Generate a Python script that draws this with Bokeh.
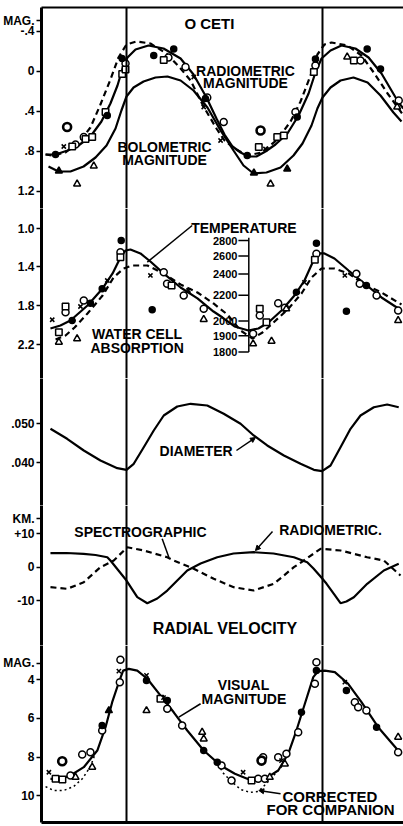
import math
from bokeh.plotting import figure
from bokeh.models import Range1d, Span, Label, FixedTicker, LinearAxis, Arrow, NormalHead
from bokeh.layouts import column
from bokeh.embed import file_html
from bokeh.resources import INLINE
from bokeh.core.properties import value

FONT = "Liberation Sans"
NAN = float("nan")

# ---------------- data (phase of the light cycle) ----------------
phase_marks = [0.0, 1.0]

# Panel 1: radiometric / bolometric magnitude
bolo_ph = [-0.398, -0.347, -0.286, -0.219, -0.158, -0.102, -0.056, -0.026, 0.0, 0.036, 0.087, 0.148, 0.209, 0.276,
           0.342, 0.413, 0.480, 0.546, 0.597, 0.648, 0.714, 0.786, 0.852, 0.898, 0.944, 0.974, 1.0, 1.041, 1.092,
           1.158, 1.230, 1.296, 1.362, 1.403]
bolo_mag = [0.955, 1.005, 1.005, 0.955, 0.865, 0.745, 0.575, 0.395, 0.255, 0.165, 0.105, 0.065, 0.055, 0.095,
            0.195, 0.365, 0.595, 0.795, 0.945, 1.025, 1.015, 0.965, 0.845, 0.725, 0.545, 0.375, 0.265, 0.165, 0.095,
            0.065, 0.115, 0.245, 0.415, 0.505]
radio_ph = [-0.413, -0.362, -0.301, -0.245, -0.184, -0.128, -0.082, -0.046, -0.020, 0.005, 0.046, 0.112, 0.189,
            0.276, 0.342, 0.408, 0.459, 0.500, 0.541, 0.582, 0.622, 0.663, 0.709, 0.760, 0.821, 0.878, 0.929, 0.964,
            0.995, 1.041, 1.097, 1.168, 1.235, 1.301, 1.388, 1.413]
radio_mag = [0.835, 0.835, 0.795, 0.745, 0.655, 0.505, 0.325, 0.145, -0.025, -0.135, -0.215, -0.255, -0.225,
             -0.125, 0.035, 0.265, 0.475, 0.635, 0.755, 0.815, 0.855, 0.855, 0.805, 0.735, 0.625, 0.445, 0.225, 0.015,
             -0.125, -0.205, -0.255, -0.225, -0.135, 0.025, 0.315, 0.375]
radio2_ph = [-0.413, -0.378, -0.311, -0.235, -0.184, -0.133, -0.082, -0.041, 0.0, 0.051, 0.122, 0.204, 0.276, 0.327,
             0.393, 0.459, 0.5, 0.551, 0.617, 0.689, 0.770, 0.837, 0.888, 0.939, 0.974, 1.010, 1.046, 1.128, 1.199,
             1.265, 1.332, 1.388, 1.413]
radio2_mag = [0.835, 0.845, 0.815, 0.695, 0.565, 0.335, 0.085, -0.135, -0.265, -0.295, -0.275, -0.175, -0.025,
              0.095, 0.355, 0.575, 0.695, 0.775, 0.845, 0.815, 0.685, 0.505, 0.305, 0.045, -0.165, -0.265, -0.285,
              -0.255, -0.155, 0.025, 0.225, 0.375, 0.445]
p1_oc_ph = [-0.218, -0.26, -0.005, 0.214, 0.301, 0.412, 0.496, 0.862, 0.964, 1.194, 1.389]
p1_oc_mag = [0.66, 0.735, -0.075, -0.135, -0.04, 0.265, 0.51, 0.41, -0.055, -0.105, 0.295]
p1_bull_ph = [-0.303, 0.684]
p1_bull_mag = [0.56, 0.595]
p1_fc_ph = [-0.362, -0.098, -0.022, 0.139, 0.241, 0.403, 0.616, 0.871, 0.964, 1.228, 1.296]
p1_fc_mag = [0.835, 0.445, -0.125, -0.155, -0.22, 0.275, 0.845, 0.46, -0.12, -0.22, -0.02]
p1_sq_ph = [-0.277, -0.209, -0.175, -0.107, -0.022, -0.005, 0.19, 0.675, 0.769, 0.803, 0.956, 1.16]
p1_sq_mag = [0.755, 0.68, 0.66, 0.41, 0.03, -0.015, -0.11, 0.76, 0.66, 0.645, 0.01, -0.105]
p1_x_ph = [-0.32, 0.343, 0.394, 0.48, 0.709]
p1_x_mag = [0.755, 0.06, 0.36, 0.695, 0.78]
p1_ot_ph = [-0.252, -0.167, 0.735, 1.126, 1.381]
p1_ot_mag = [1.13, 0.95, 1.13, -0.14, 0.36]
p1_ft_ph = [-0.345, 0.65, 0.82]
p1_ft_mag = [1.0, 1.02, 0.98]

# Panel 2: temperature / water cell absorption
temp_ph = [-0.388, -0.337, -0.286, -0.199, -0.122, -0.071, -0.031, -0.005, 0.020, 0.071, 0.122, 0.189, 0.276,
           0.362, 0.444, 0.490, 0.551, 0.622, 0.673, 0.724, 0.791, 0.857, 0.908, 0.954, 0.980, 1.010, 1.061, 1.133,
           1.214, 1.301, 1.403]
temp_val = [2.035, 2.004, 1.953, 1.798, 1.622, 1.467, 1.302, 1.230, 1.220, 1.261, 1.344, 1.467, 1.612, 1.725,
            1.860, 1.922, 2.014, 2.056, 2.035, 1.973, 1.849, 1.695, 1.540, 1.333, 1.261, 1.261, 1.313, 1.437, 1.571,
            1.715, 1.849]
water_ph = [-0.362, -0.311, -0.265, -0.199, -0.122, -0.066, -0.015, 0.031, 0.107, 0.189, 0.276, 0.362, 0.444,
            0.515, 0.582, 0.643, 0.694, 0.745, 0.827, 0.893, 0.944, 0.995, 1.061, 1.133, 1.214, 1.301, 1.403]
water_val = [2.149, 2.107, 2.025, 1.880, 1.695, 1.509, 1.416, 1.385, 1.385, 1.467, 1.581, 1.664, 1.777, 1.891,
             2.056, 2.138, 2.076, 1.983, 1.829, 1.674, 1.509, 1.416, 1.416, 1.467, 1.581, 1.664, 1.787]
temp_ticks = [2800, 2600, 2400, 2200, 2000, 1900, 1800]
p2_oc_ph = [-0.311, -0.218, -0.031, 0.190, 0.207, 0.292, 0.394, 0.680, 0.646, 0.774, 0.808, 0.969, 1.173, 1.190,
            1.276, 1.386]
p2_oc_val = [1.867, 1.746, 1.248, 1.454, 1.574, 1.695, 1.832, 1.901, 2.090, 1.774, 1.821, 1.264, 1.471, 1.574,
             1.695, 1.849]
p2_sq_ph = [-0.345, -0.311, -0.031, 0.23, 0.680, 0.714, 0.961]
p2_sq_val = [2.073, 1.808, 1.299, 1.591, 1.832, 1.970, 1.326]
p2_fc_ph = [-0.277, -0.184, -0.124, -0.027, 0.131, 0.867, 0.969, 1.122, 1.224]
p2_fc_val = [1.953, 1.774, 1.625, 1.127, 1.842, 1.660, 1.155, 1.857, 1.591]
p2_x_ph = [-0.379, -0.235, -0.098, 0.122, 0.316, 0.908, 1.114]
p2_x_val = [1.945, 1.808, 1.540, 1.488, 1.643, 1.56, 1.488]
p2_ot_ph = [-0.345, -0.252, 0.394, 0.646, 0.740, 0.815, 1.386]
p2_ot_val = [2.176, 2.141, 1.942, 2.193, 2.166, 1.832, 1.953]

# Panel 3: diameter (seconds of arc)
diam_ph = [-0.388, -0.303, -0.218, -0.133, -0.047, 0.0, 0.037, 0.088, 0.139, 0.190, 0.259, 0.327, 0.412, 0.496,
           0.582, 0.649, 0.718, 0.803, 0.888, 0.956, 0.998, 1.041, 1.092, 1.143, 1.194, 1.262, 1.330, 1.389]
diam_val = [0.04856, 0.04599, 0.04298, 0.04041, 0.03843, 0.03802, 0.03956, 0.04383, 0.04812, 0.05198, 0.05429,
            0.05499, 0.05455, 0.05242, 0.04985, 0.04684, 0.04427, 0.04170, 0.03956, 0.03802, 0.03766, 0.03913,
            0.04383, 0.04856, 0.05198, 0.05411, 0.05481, 0.05411]

# Panel 4: radial velocity (km/s)
rv_rad_ph = [-0.388, -0.306, -0.219, -0.158, -0.098, -0.082, -0.041, 0.0, 0.055, 0.106, 0.157, 0.208, 0.259, 0.310,
             0.378, 0.463, 0.546, 0.649, 0.750, 0.854, 0.922, 0.954, 0.990, 1.020, 1.058, 1.092, 1.122, 1.160,
             1.228, 1.313, 1.389]
rv_rad_val = [4.2, 4.26, 4.02, 3.66, 3.0, 2.0, -1.0, -4.0, -9.0, -10.81, -9.4, -7.0, -3.99, -1.0, 1.11, 3.0, 4.11,
              4.5, 4.11, 3.0, 1.5, -0.4, -2.8, -4.9, -7.99, -10.81, -10.3, -9.0, -4.98, -0.99, 1.02]
rv_spec_ph = [-0.388, -0.303, -0.218, -0.133, -0.065, 0.004, 0.088, 0.208, 0.241, 0.343, 0.445, 0.547, 0.649, 0.752,
              0.854, 0.905, 0.990, 1.092, 1.228, 1.313, 1.398]
rv_spec_val = [-6.0, -6.49, -4.5, 0.0, 2.01, 6.0, 5.02, 3.0, 2.01, -0.48, -3.48, -6.0, -7.0, -4.98, 0.0, 2.01, 5.53,
               5.02, 3.0, 2.01, -2.49]

# Panel 5: visual magnitude
vis_ph = [-0.388, -0.337, -0.286, -0.218, -0.149, -0.107, -0.073, -0.039, -0.017, 0.012, 0.055, 0.106, 0.173, 0.241,
          0.310, 0.394, 0.480, 0.553, 0.638, 0.706, 0.774, 0.825, 0.867, 0.910, 0.953, 0.978, 1.012, 1.063, 1.131,
          1.199, 1.284, 1.386]
vis_mag = [9.12, 9.12, 8.95, 8.52, 7.66, 6.46, 5.17, 4.14, 3.54, 3.45, 3.54, 3.96, 4.82, 5.69, 6.63, 7.66, 8.43,
           8.86, 9.21, 9.12, 8.69, 7.83, 6.63, 5.25, 3.88, 3.57, 3.54, 3.62, 4.22, 5.17, 6.46, 7.66]
corr_ph = [-0.413, -0.372, -0.321, -0.270, -0.224, -0.184, -0.163, NAN, 0.47, 0.490, 0.531, 0.582, 0.633, 0.673,
           0.714, 0.755, 0.806]
corr_mag = [9.52, 9.72, 9.72, 9.52, 9.10, 8.48, 7.92, NAN, 8.35, 8.79, 9.21, 9.67, 9.82, 9.77, 9.36, 8.90, 8.33]
p5_oc_ph = [-0.031, -0.034, -0.124, -0.184, -0.226, -0.286, 0.208, 0.284, 0.485, 0.536, 0.672, 0.706, 0.697, 0.774,
            0.816, 0.876, 0.961, 0.969, 1.165, 1.182, 1.224, 1.386]
p5_oc_mag = [2.98, 4.14, 6.63, 7.75, 7.87, 8.95, 5.51, 6.37, 8.43, 9.21, 9.12, 9.12, 8.01, 8.01, 7.83, 6.72, 4.22,
             3.11, 5.17, 5.43, 5.60, 7.75]
p5_bull_ph = [-0.328, 0.689]
p5_bull_mag = [8.21, 8.18]
p5_fc_ph = [-0.124, 0.102, 0.208, 0.394, 0.463, 0.893, 0.969, 1.122, 1.276]
p5_fc_mag = [6.37, 4.05, 5.08, 7.66, 8.26, 5.69, 3.54, 4.57, 6.46]
p5_ft_ph = [-0.090]
p5_ft_mag = [5.60]
p5_sq_ph = [-0.362, -0.327, 0.638, 0.173]
p5_sq_mag = [9.12, 9.15, 9.21, 4.99]
p5_x_ph = [-0.396, -0.039, 0.102, 0.189, 0.595, 0.791, 1.114]
p5_x_mag = [8.78, 3.57, 3.79, 4.93, 8.78, 8.18, 4.14]
p5_ot_ph = [-0.260, -0.175, 0.102, 0.386, 0.394, 0.731, 0.808, 1.386]
p5_ot_mag = [9.04, 8.52, 5.60, 6.72, 7.06, 9.04, 8.35, 6.97]

# ---------------- layout helpers ----------------
W = 403
LEFT = 41
xr = Range1d(-0.4337, 1.4133)


def make_panel(h, ystart, yend, ticks, labels, top=False, bottom=False):
    p = figure(width=W, height=h, x_range=xr, y_range=Range1d(ystart, yend), output_backend="svg",
               toolbar_location=None, x_axis_location=None, min_border_left=LEFT, min_border_right=0,
               min_border_top=7 if top else 0, min_border_bottom=4 if bottom else 0)
    p.grid.visible = False
    p.outline_line_color = None
    p.background_fill_color = "white"
    p.border_fill_color = "white"
    ax = p.yaxis[0]
    ax.ticker = FixedTicker(ticks=ticks)
    ax.major_label_overrides = {t: l for t, l in zip(ticks, labels)}
    ax.axis_line_width = 3
    ax.axis_line_color = "black"
    ax.major_tick_out = 5
    ax.major_tick_in = 0
    ax.major_tick_line_width = 1.5
    ax.minor_tick_line_color = None
    ax.major_label_standoff = 2
    ax.major_label_text_font = FONT
    ax.major_label_text_font_style = "bold"
    ax.major_label_text_font_size = "12px"
    ax.major_label_text_color = "black"
    for v in phase_marks:
        p.add_layout(Span(location=v, dimension="height", line_color="black", line_width=2))
    if top or bottom:
        fa = LinearAxis(ticker=FixedTicker(ticks=[]), axis_line_width=2 if top else 3, major_tick_out=0,
                        major_tick_in=0, minor_tick_out=0, minor_tick_in=0, major_label_standoff=0)
        p.add_layout(fa, "above" if top else "below")
    return p


def pts(p, xs, ys, marker, filled=False, size=7, lw=1.5):
    p.scatter(xs, ys, marker=marker, size=size, line_color="black", line_width=lw,
              fill_color="black" if filled else "white")


def lab(p, x, y, text, size=14, align="center"):
    p.add_layout(Label(x=x, y=y, text=text, text_font=FONT, text_font_style="bold",
                       text_font_size=f"{size}px", text_align=align, text_baseline="middle",
                       text_color="black"))


def curve(p, xs, ys, dash="solid", lw=2.2):
    p.line(xs, ys, line_color="black", line_width=lw, line_dash=dash)


# unit captions shown on the left axes (value position, text)
p1_ticks = [-0.505, -0.4, 0, 0.4, 0.8, 1.2]
p1_tick_labels = ["MAG.", "-.4", "0", ".4", ".8", "1.2"]
p2_ticks = [1.0, 1.4, 1.8, 2.2]
p2_tick_labels = ["1.0", "1.4", "1.8", "2.2"]
p3_ticks = [0.05, 0.04]
p3_tick_labels = [".050", ".040"]
p4_ticks = [14.6, 10, 0, -10]
p4_tick_labels = ["KM.", "+10", "0", "-10"]
p5_ticks = [3.15, 4, 6, 8, 10]
p5_tick_labels = ["MAG.", "4", "6", "8", "10"]

# ---------------- panel 1 ----------------
p1 = make_panel(208, 1.375, -0.635, p1_ticks, p1_tick_labels, top=True)
curve(p1, bolo_ph, bolo_mag)
curve(p1, radio_ph, radio_mag)
curve(p1, radio2_ph, radio2_mag, dash="6 4")
pts(p1, p1_oc_ph, p1_oc_mag, "circle")
pts(p1, p1_bull_ph, p1_bull_mag, "circle", size=8, lw=2.6)
pts(p1, p1_sq_ph, p1_sq_mag, "square", size=6.5)
pts(p1, p1_fc_ph, p1_fc_mag, "circle", filled=True, size=6)
pts(p1, p1_x_ph, p1_x_mag, "x", size=6)
pts(p1, p1_ot_ph, p1_ot_mag, "triangle", size=7)
pts(p1, p1_ft_ph, p1_ft_mag, "triangle", filled=True, size=7)
lab(p1, 0.423, -0.48, "O CETI", size=15)
lab(p1, 0.607, 0.0, "RADIOMETRIC")
lab(p1, 0.607, 0.115, "MAGNITUDE")
lab(p1, 0.194, 0.755, "BOLOMETRIC")
lab(p1, 0.194, 0.885, "MAGNITUDE")

# ---------------- panel 2 ----------------
p2 = make_panel(170, 2.551, 0.797, p2_ticks, p2_tick_labels)
p2.extra_y_ranges = {"temp": Range1d(6.025, 3.0)}
curve(p2, temp_ph, temp_val)
curve(p2, water_ph, water_val, dash="6 4")
inv_t = [1e4 / t for t in temp_ticks]
n = len(temp_ticks)
p2.segment(x0=[0.571] * n, y0=inv_t, x1=[0.624] * n, y1=inv_t, y_range_name="temp", line_color="black",
           line_width=1.5)
p2.segment(x0=[0.624], y0=[inv_t[0] - 0.05], x1=[0.624], y1=[inv_t[-1]], y_range_name="temp",
           line_color="black", line_width=1.5)
p2.text(x=[0.566] * n, y=inv_t, text=[str(t) for t in temp_ticks], y_range_name="temp", text_align="right",
        text_baseline="middle", text_font=value(FONT), text_font_style="bold", text_font_size="11px",
        text_color="black")
pts(p2, p2_oc_ph, p2_oc_val, "circle")
pts(p2, p2_sq_ph, p2_sq_val, "square", size=6.5)
pts(p2, p2_fc_ph, p2_fc_val, "circle", filled=True, size=6)
pts(p2, p2_x_ph, p2_x_val, "x", size=6)
pts(p2, p2_ot_ph, p2_ot_val, "triangle", size=7)
p2.segment(x0=[0.335], y0=[0.972], x1=[0.106], y1=[1.351], line_color="black", line_width=1.5)
lab(p2, 0.599, 1.003, "TEMPERATURE")
lab(p2, 0.054, 2.097, "WATER CELL")
lab(p2, 0.054, 2.236, "ABSORPTION")

# ---------------- panel 3 ----------------
p3 = make_panel(127, 0.02884, 0.06149, p3_ticks, p3_tick_labels)
curve(p3, diam_ph, diam_val)
p3.add_layout(Arrow(x_start=0.561, y_start=0.04298, x_end=0.658, y_end=0.04632, line_width=1.5,
                    end=NormalHead(size=5, fill_color="black", line_color="black")))
lab(p3, 0.355, 0.04273, "DIAMETER")

# ---------------- panel 4 ----------------
p4 = make_panel(140, -23.51, 18.53, p4_ticks, p4_tick_labels)
curve(p4, rv_rad_ph, rv_rad_val)
curve(p4, rv_spec_ph, rv_spec_val, dash="6 4")
p4.segment(x0=[0.182], y0=[8.53], x1=[0.216], y1=[3.0], line_color="black", line_width=1.5)
p4.add_layout(Arrow(x_start=0.745, y_start=10.72, x_end=0.658, y_end=5.0, line_width=1.5,
                    end=NormalHead(size=5, fill_color="black", line_color="black")))
lab(p4, 0.071, 10.7, "SPECTROGRAPHIC")
lab(p4, 1.041, 11.3, "RADIOMETRIC.")
lab(p4, 0.503, -18.3, "RADIAL VELOCITY", size=16)

# ---------------- panel 5 ----------------
p5 = make_panel(181, 11.371, 2.247, p5_ticks, p5_tick_labels, bottom=True)
curve(p5, vis_ph, vis_mag)
curve(p5, corr_ph, corr_mag, dash="2 3", lw=1.5)
pts(p5, p5_oc_ph, p5_oc_mag, "circle")
pts(p5, p5_bull_ph, p5_bull_mag, "circle", size=8, lw=2.6)
pts(p5, p5_sq_ph, p5_sq_mag, "square", size=6.5)
pts(p5, p5_fc_ph, p5_fc_mag, "circle", filled=True, size=6)
pts(p5, p5_ft_ph, p5_ft_mag, "triangle", filled=True, size=7)
pts(p5, p5_x_ph, p5_x_mag, "x", size=6)
pts(p5, p5_ot_ph, p5_ot_mag, "triangle", size=7)
p5.segment(x0=[0.378], y0=[5.25], x1=[0.267], y1=[5.94], line_color="black", line_width=1.5)
p5.add_layout(Arrow(x_start=0.786, y_start=9.89, x_end=0.675, y_end=9.72, line_width=1.5,
                    end=NormalHead(size=5, fill_color="black", line_color="black")))
lab(p5, 0.597, 4.26, "VISUAL")
lab(p5, 0.599, 5.03, "MAGNITUDE")
lab(p5, 1.038, 10.03, "CORRECTED", size=15)
lab(p5, 1.041, 10.70, "FOR COMPANION", size=15)

layout = column(p1, p2, p3, p4, p5, spacing=0)
open("out.html", "w").write(file_html(layout, INLINE))
